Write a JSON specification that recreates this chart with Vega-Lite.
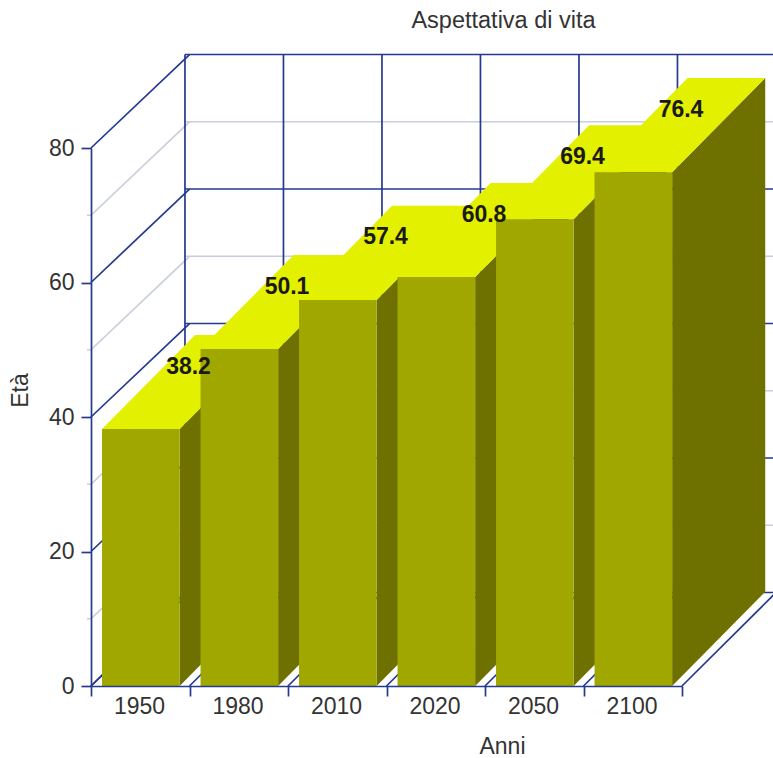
{
"$schema":"https://vega.github.io/schema/vega-lite/v6.json",
"width":591,"height":538,
"autosize":"none",
"padding":{"left":91,"top":148,"right":91,"bottom":72},
"background":"white",
"config":{"view":{"stroke":null},"font":"Liberation Sans"},
"title":{"text":"Aspettativa di vita","font":"Liberation Sans","fontSize":23.5,"fontWeight":"normal","color":"#333333","anchor":"middle","offset":21,"dx":117},
"resolve":{"axis":{"x":"independent","y":"independent"}},
"datasets":{
"bars":[{"anno":1950,"eta":38.2},{"anno":1980,"eta":50.1},{"anno":2010,"eta":57.4},{"anno":2020,"eta":60.8},{"anno":2050,"eta":69.4},{"anno":2100,"eta":76.4}],
"hgrid":[{"v":10},{"v":30},{"v":50},{"v":70},{"v":0},{"v":20},{"v":40},{"v":60},{"v":80}],
"vgrid":[{"t":0},{"t":1},{"t":2},{"t":3},{"t":4},{"t":5},{"t":6}]
},
"layer":[
{"data":{"name":"hgrid"},"transform":[{"calculate":"datum.v+13.9","as":"yb"}],
 "mark":{"type":"rule","strokeWidth":1.7},
 "encoding":{
  "x":{"datum":0,"type":"quantitative","scale":{"domain":[0,6],"nice":false,"zero":false},"axis":{"values":[0,1,2,3,4,5,6],"title":"Anni","titleFontWeight":"normal","titleFontSize":23,"titleColor":"#333333","titleX":411,"titleY":49,"labelFontSize":23,"labelColor":"#333333","labelExpr":"[1950,1980,2010,2020,2050,2100][datum.value]||''","labelOffset":48,"labelOverlap":false,"labelFlush":false,"labelBound":false,"labelPadding":-1,"tickSize":10,"tickColor":"#24398f","tickWidth":1.7,"domainColor":"#24398f","domainWidth":1.7,"grid":false,"zindex":1}},
  "x2":{"datum":1},
  "y":{"field":"v","type":"quantitative","scale":{"domain":[0,80],"nice":false,"zero":false},"axis":{"values":[0,20,40,60,80],"title":"Età","titleFontWeight":"normal","titleFontSize":23,"titleColor":"#333333","titleX":-59,"titleY":242,"labelFontSize":23,"labelColor":"#333333","labelPadding":7,"tickSize":10,"tickColor":"#24398f","tickWidth":1.7,"domainColor":"#24398f","domainWidth":1.7,"grid":false,"zindex":1}},
  "y2":{"field":"yb"},
  "color":{"condition":{"test":"datum.v%20===0","value":"#24398f"},"value":"#c8cedd"}
 }},
{"data":{"name":"hgrid"},"transform":[{"calculate":"datum.v+13.9","as":"yb"}],
 "mark":{"type":"rule","strokeWidth":1.7},
 "encoding":{
  "x":{"datum":0.954,"type":"quantitative","scale":{"domain":[0,6],"nice":false,"zero":false},"axis":null},
  "x2":{"datum":7},
  "y":{"field":"yb","type":"quantitative","scale":{"domain":[0,80],"nice":false,"zero":false},"axis":null},
  "color":{"condition":{"test":"datum.v%20===0","value":"#24398f"},"value":"#c8cedd"}
 }},
{"data":{"name":"hgrid"},"transform":[{"filter":"datum.v%20!==0"}],
 "mark":{"type":"rule","strokeWidth":1.5,"color":"#c8cedd","xOffset":-4},
 "encoding":{
  "x":{"datum":0,"type":"quantitative","scale":{"domain":[0,6],"nice":false,"zero":false},"axis":null},
  "x2":{"datum":0},
  "y":{"field":"v","type":"quantitative","scale":{"domain":[0,80],"nice":false,"zero":false},"axis":null}
 }},
{"data":{"name":"vgrid"},"transform":[{"calculate":"datum.t+0.954","as":"xb"}],
 "mark":{"type":"rule","strokeWidth":1.7,"color":"#24398f"},
 "encoding":{
  "x":{"field":"xb","type":"quantitative","scale":{"domain":[0,6],"nice":false,"zero":false},"axis":null},
  "y":{"datum":13.9,"type":"quantitative","scale":{"domain":[0,80],"nice":false,"zero":false},"axis":null},
  "y2":{"datum":93.9}
 }},
{"data":{"name":"vgrid"},"transform":[{"calculate":"datum.t+0.954","as":"xb"}],
 "mark":{"type":"rule","strokeWidth":1.7,"color":"#24398f"},
 "encoding":{
  "x":{"field":"t","type":"quantitative","scale":{"domain":[0,6],"nice":false,"zero":false},"axis":null},
  "x2":{"field":"xb"},
  "y":{"datum":0,"type":"quantitative","scale":{"domain":[0,80],"nice":false,"zero":false},"axis":null},
  "y2":{"datum":13.9}
 }},
{"data":{"name":"bars"},
 "transform":[{"window":[{"op":"row_number","as":"n"}]},{"calculate":"[0,1]","as":"k"},{"flatten":["k"]},
  {"calculate":"datum.n-1+0.9+0.945*datum.k","as":"xs"},
  {"calculate":"14*datum.k","as":"y0"},
  {"calculate":"datum.eta+14*datum.k","as":"y1"}],
 "mark":{"type":"area","color":"#6e7000","orient":"vertical","line":false},
 "encoding":{
  "x":{"field":"xs","type":"quantitative","scale":{"domain":[0,6],"nice":false,"zero":false},"axis":null},
  "y":{"field":"y0","type":"quantitative","stack":null,"scale":{"domain":[0,80],"nice":false,"zero":false},"axis":null},
  "y2":{"field":"y1"},
  "detail":{"field":"anno"}
 }},
{"data":{"name":"bars"},
 "transform":[{"window":[{"op":"row_number","as":"n"}]},{"calculate":"[0,1]","as":"k"},{"flatten":["k"]},
  {"calculate":"datum.n-1+0.112+0.945*datum.k","as":"xl"},
  {"calculate":"datum.n-1+0.9+0.945*datum.k","as":"xr"},
  {"calculate":"datum.eta+14*datum.k","as":"y1"}],
 "mark":{"type":"area","color":"#e3f000","orient":"horizontal","line":false},
 "encoding":{
  "y":{"field":"y1","type":"quantitative","scale":{"domain":[0,80],"nice":false,"zero":false},"axis":null},
  "x":{"field":"xl","type":"quantitative","stack":null,"scale":{"domain":[0,6],"nice":false,"zero":false},"axis":null},
  "x2":{"field":"xr"},
  "detail":{"field":"anno"}
 }},
{"data":{"name":"bars"},
 "transform":[{"window":[{"op":"row_number","as":"n"}]},
  {"calculate":"datum.n-1+0.112","as":"xl"},
  {"calculate":"datum.n-1+0.9","as":"xr"}],
 "mark":{"type":"rect","color":"#a0a800"},
 "encoding":{
  "x":{"field":"xl","type":"quantitative","scale":{"domain":[0,6],"nice":false,"zero":false},"axis":null},
  "x2":{"field":"xr"},
  "y":{"field":"eta","type":"quantitative","scale":{"domain":[0,80],"nice":false,"zero":false},"axis":null},
  "y2":{"datum":0}
 }},
{"data":{"name":"bars"},
 "transform":[{"window":[{"op":"row_number","as":"n"}]},
  {"calculate":"datum.n-1+0.99","as":"xt"},
  {"calculate":"datum.eta+9.3","as":"yt"}],
 "mark":{"type":"text","fontSize":23,"fontWeight":"bold","color":"#1a1a1a","align":"center","baseline":"middle"},
 "encoding":{
  "x":{"field":"xt","type":"quantitative","scale":{"domain":[0,6],"nice":false,"zero":false},"axis":null},
  "y":{"field":"yt","type":"quantitative","scale":{"domain":[0,80],"nice":false,"zero":false},"axis":null},
  "text":{"field":"eta","type":"quantitative","format":".1f"}
 }}
]
}
